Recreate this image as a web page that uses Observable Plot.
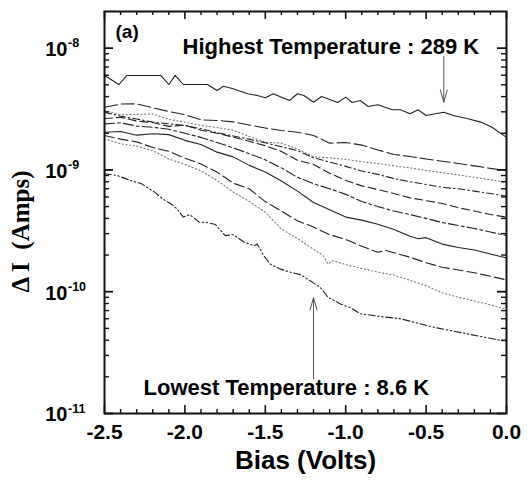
<!DOCTYPE html>
<html><head><meta charset="utf-8">
<script src="https://cdn.jsdelivr.net/npm/d3@7"></script>
<script src="https://cdn.jsdelivr.net/npm/@observablehq/plot@0.6"></script>
<style>body{margin:0;background:#fff}#chart svg{display:block}</style>
</head><body><div id="chart"></div>
<script>
// ---- data (Bias in volts, ΔI in amps) ----
const biasGrid = [-2.5,-2.4,-2.3,-2.2,-2.1,-2.0,-1.9,-1.8,-1.7,-1.6,-1.5,-1.4,-1.3,-1.2,-1.1,-1.0,-0.9,-0.8,-0.7,-0.6,-0.5,-0.4,-0.3,-0.2,-0.1,0.0];

const c1Bias = [-2.5,-2.41,-2.36,-2.15,-2.10,-2.06,-2.01,-1.86,-1.80,-1.76,-1.70,-1.61,-1.55,-1.50,-1.45,-1.40,-1.35,-1.30,-1.26,-1.20,-1.15,-1.05,-1.00,-0.96,-0.91,-0.86,-0.80,-0.71,-0.66,-0.60,-0.55,-0.50,-0.39,-0.33,-0.24,-0.16,-0.09,0.0];
const c1Current = [5.97e-9,5.03e-9,5.97e-9,5.97e-9,5.03e-9,5.97e-9,5.03e-9,5.03e-9,4.49e-9,4.87e-9,4.64e-9,4.22e-9,4.09e-9,3.91e-9,4.22e-9,3.96e-9,3.72e-9,4.22e-9,4.09e-9,3.6e-9,4.01e-9,3.58e-9,3.96e-9,3.58e-9,3.72e-9,3.32e-9,3.43e-9,3.12e-9,3.12e-9,2.89e-9,3.12e-9,2.80e-9,2.98e-9,2.80e-9,2.63e-9,2.47e-9,2.24e-9,1.85e-9];

const c2Current = [3.27e-9,3.48e-9,3.49e-9,3.24e-9,3.02e-9,2.84e-9,2.58e-9,2.55e-9,2.48e-9,2.34e-9,2.21e-9,2.11e-9,2.04e-9,1.92e-9,1.66e-9,1.68e-9,1.60e-9,1.46e-9,1.34e-9,1.29e-9,1.23e-9,1.18e-9,1.13e-9,1.08e-9,1.03e-9,9.9e-10];
const c3Current = [3.08e-9,2.83e-9,2.86e-9,2.88e-9,2.60e-9,2.47e-9,2.32e-9,2.23e-9,2.12e-9,1.88e-9,1.69e-9,1.66e-9,1.49e-9,1.28e-9,1.26e-9,1.22e-9,1.17e-9,1.13e-9,1.08e-9,1.04e-9,9.9e-10,9.5e-10,9.1e-10,8.7e-10,8.3e-10,7.9e-10];
const c4Current = [2.98e-9,2.76e-9,2.62e-9,2.47e-9,2.39e-9,2.32e-9,2.18e-9,2.02e-9,1.90e-9,1.79e-9,1.67e-9,1.55e-9,1.44e-9,1.26e-9,1.16e-9,1.07e-9,9.8e-10,9.2e-10,8.5e-10,8.0e-10,7.6e-10,7.2e-10,7.0e-10,6.7e-10,6.4e-10,6.1e-10];
const c5Current = [2.63e-9,2.71e-9,2.52e-9,2.45e-9,2.28e-9,2.33e-9,2.12e-9,2.00e-9,1.86e-9,1.72e-9,1.58e-9,1.42e-9,1.20e-9,1.11e-9,9.4e-10,8.2e-10,7.4e-10,6.9e-10,6.4e-10,5.9e-10,5.6e-10,5.3e-10,4.9e-10,4.6e-10,4.3e-10,4.1e-10];
const c6Current = [2.39e-9,2.44e-9,2.29e-9,2.24e-9,2.16e-9,2.00e-9,1.85e-9,1.68e-9,1.52e-9,1.36e-9,1.21e-9,1.04e-9,8.7e-10,7.7e-10,7.0e-10,6.3e-10,5.5e-10,5.0e-10,4.6e-10,4.3e-10,4.0e-10,3.7e-10,3.5e-10,3.3e-10,3.09e-10,2.89e-10];

const c7Bias = [-2.5,-2.4,-2.3,-2.2,-2.1,-2.0,-1.9,-1.8,-1.7,-1.6,-1.5,-1.4,-1.3,-1.2,-1.1,-1.0,-0.9,-0.8,-0.7,-0.6,-0.55,-0.5,-0.4,-0.3,-0.2,-0.1,0.0];
const c7Current = [2.04e-9,2.07e-9,1.93e-9,1.98e-9,1.95e-9,1.75e-9,1.62e-9,1.40e-9,1.28e-9,1.09e-9,9.6e-10,8.1e-10,6.7e-10,5.4e-10,4.7e-10,4.1e-10,3.87e-10,3.58e-10,3.24e-10,2.85e-10,2.72e-10,2.78e-10,2.46e-10,2.31e-10,2.20e-10,2.04e-10,1.89e-10];

const c8Bias = [-2.5,-2.4,-2.3,-2.2,-2.1,-2.0,-1.9,-1.8,-1.7,-1.6,-1.5,-1.4,-1.3,-1.2,-1.1,-1.0,-0.9,-0.8,-0.75,-0.7,-0.6,-0.5,-0.4,-0.3,-0.2,-0.1,0.0];
const c8Current = [1.92e-9,1.79e-9,1.70e-9,1.53e-9,1.42e-9,1.25e-9,1.12e-9,9.6e-10,7.8e-10,7.0e-10,5.5e-10,4.6e-10,3.82e-10,3.40e-10,2.94e-10,2.69e-10,2.36e-10,2.11e-10,2.18e-10,2.09e-10,1.92e-10,1.73e-10,1.59e-10,1.51e-10,1.43e-10,1.34e-10,1.25e-10];

const c9Bias = [-2.5,-2.4,-2.3,-2.2,-2.1,-2.0,-1.9,-1.8,-1.7,-1.6,-1.5,-1.4,-1.3,-1.2,-1.14,-1.11,-1.08,-1.0,-0.9,-0.8,-0.7,-0.6,-0.5,-0.4,-0.3,-0.2,-0.1,0.0];
const c9Current = [1.80e-9,1.64e-9,1.57e-9,1.44e-9,1.23e-9,1.11e-9,9.8e-10,8.2e-10,6.6e-10,5.5e-10,4.5e-10,3.27e-10,2.73e-10,2.23e-10,1.98e-10,1.69e-10,1.80e-10,1.67e-10,1.55e-10,1.45e-10,1.37e-10,1.24e-10,1.12e-10,9.8e-11,9.0e-11,8.4e-11,7.8e-11,7.2e-11];

const c10Bias = [-2.5,-2.42,-2.34,-2.27,-2.19,-2.14,-2.09,-2.05,-2.01,-1.97,-1.91,-1.87,-1.81,-1.75,-1.70,-1.63,-1.57,-1.55,-1.51,-1.47,-1.41,-1.34,-1.28,-1.23,-1.16,-1.11,-1.03,-0.97,-0.91,-0.76,-0.66,-0.45,-0.24,0.0];
const c10Current = [9.3e-10,9.0e-10,8.2e-10,7.7e-10,6.6e-10,5.8e-10,5.3e-10,4.8e-10,4.1e-10,4.3e-10,3.72e-10,3.72e-10,3.56e-10,2.89e-10,2.94e-10,2.55e-10,2.39e-10,2.47e-10,1.98e-10,1.69e-10,1.54e-10,1.44e-10,1.38e-10,1.25e-10,1.09e-10,9.0e-11,7.9e-11,7.4e-11,6.6e-11,6.2e-11,6.0e-11,5.1e-11,4.5e-11,3.9e-11];

// tick labels
const xTickValues = [-2.5,-2.0,-1.5,-1.0,-0.5,0.0];
const xTickLabels = ["-2.5","-2.0","-1.5","-1.0","-0.5","0.0"];
const yTickValues = [1e-11,1e-10,1e-9,1e-8];
const yTickExponents = ["-11","-10","-9","-8"];

// annotations
const annotationTexts = ["Highest Temperature : 289 K","Lowest Temperature : 8.6 K"];
const arrowBias = [-0.39,-1.2];
const arrowFrom = [8.55e-9,1.93e-11];
const arrowTo = [3.6e-9,8.93e-11];

// ---- build ----
const series = [
  [c1Bias,c1Current],[biasGrid,c2Current],[biasGrid,c3Current],[biasGrid,c4Current],[biasGrid,c5Current],
  [biasGrid,c6Current],[c7Bias,c7Current],[c8Bias,c8Current],[c9Bias,c9Current],[c10Bias,c10Current]
];
const styles = [
  {stroke:"#222", dash:null},
  {stroke:"#222", dash:"13,4"},
  {stroke:"#777", dash:"1.2,2.5"},
  {stroke:"#222", dash:"7,3,1.5,3"},
  {stroke:"#222", dash:"8,4"},
  {stroke:"#222", dash:"10,3,3,3"},
  {stroke:"#222", dash:null},
  {stroke:"#222", dash:"10,4"},
  {stroke:"#777", dash:"1.2,2.5"},
  {stroke:"#222", dash:"7,2.5,1.5,2.5,1.5,2.5"}
];
const rows = series.map(([bx,cy]) => bx.map((b,j)=>({bias:b, current:cy[j]})));

const W=530, H=491, mL=104, mR=24, mT=11, mB=78;
const fw = W-mL-mR, fh = H-mT-mB;

const xMinor = d3.range(-24,0).map(i=>i/10).filter(v=>Math.abs(v*2-Math.round(v*2))>1e-6);
const yMinor = [];
for (const dec of [1e-11,1e-10,1e-9]) for (let k=2;k<=9;k++) yMinor.push(k*dec);

const bold = {fontWeight:"bold", fill:"#000"};
const arrows = arrowBias.map((b,i)=>({x:b, y1:arrowFrom[i], y2:arrowTo[i]}));

const chart = Plot.plot({
  width:W, height:H, marginLeft:mL, marginRight:mR, marginTop:mT, marginBottom:mB,
  x:{domain:[-2.5,0], axis:null},
  y:{type:"log", domain:[1e-11,2e-8], axis:null},
  style:{fontFamily:"'Liberation Sans', Arial, Helvetica, sans-serif", background:"#fff", overflow:"visible"},
  marks:[
    ...rows.map((r,i)=>Plot.line(r,{x:"bias", y:"current", stroke:styles[i].stroke, strokeWidth:1.1, strokeDasharray:styles[i].dash})),
    // inward ticks
    Plot.ruleX(xTickValues,{x:d=>d, insetTop:fh-8, strokeWidth:1.6, stroke:"#111"}),
    Plot.ruleX(xTickValues,{x:d=>d, insetBottom:fh-8, strokeWidth:1.6, stroke:"#111"}),
    Plot.ruleX(xMinor,{x:d=>d, insetTop:fh-4, strokeWidth:1.4, stroke:"#111"}),
    Plot.ruleX(xMinor,{x:d=>d, insetBottom:fh-4, strokeWidth:1.4, stroke:"#111"}),
    Plot.ruleY(yTickValues,{y:d=>d, insetRight:fw-9, strokeWidth:1.8, stroke:"#111"}),
    Plot.ruleY(yTickValues,{y:d=>d, insetLeft:fw-9, strokeWidth:1.8, stroke:"#111"}),
    Plot.ruleY(yMinor,{y:d=>d, insetRight:fw-5, strokeWidth:1.4, stroke:"#111"}),
    Plot.ruleY(yMinor,{y:d=>d, insetLeft:fw-5, strokeWidth:1.4, stroke:"#111"}),
    Plot.frame({stroke:"#111", strokeWidth:2}),
    // x tick labels
    Plot.text(xTickValues,{x:d=>d, text:(d,i)=>xTickLabels[i], frameAnchor:"bottom", textAnchor:"middle", lineAnchor:"bottom", dy:25, fontSize:21, ...bold}),
    // y tick labels 10^n
    Plot.text(yTickValues,{y:d=>d, text:()=>"10", frameAnchor:"left", textAnchor:"end", dx:-37, dy:1.5, fontSize:20, ...bold}),
    Plot.text(yTickValues,{y:d=>d, text:(d,i)=>yTickExponents[i], frameAnchor:"left", textAnchor:"start", dx:-36.5, dy:-5, fontSize:12.5, ...bold}),
    // axis titles
    Plot.text(["Bias (Volts)"],{text:d=>d, frameAnchor:"bottom", textAnchor:"middle", lineAnchor:"bottom", dy:55, fontSize:26, ...bold}),
    Plot.text(["\u0394 I  (Amps)"],{text:d=>d, frameAnchor:"left", textAnchor:"middle", lineAnchor:"middle", rotate:-90, dx:-84, dy:19, fontSize:25, fontFamily:"'Liberation Serif', 'Times New Roman', serif", ...bold}),
    // panel label and annotations
    Plot.text(["(a)"],{text:d=>d, frameAnchor:"top-left", textAnchor:"start", lineAnchor:"bottom", dx:11, dy:26, fontSize:19, ...bold}),
    Plot.text([annotationTexts[0]],{text:d=>d, frameAnchor:"top-left", textAnchor:"start", lineAnchor:"bottom", dx:78, dy:42, fontSize:22, ...bold}),
    Plot.text([annotationTexts[1]],{text:d=>d, frameAnchor:"bottom-left", textAnchor:"start", lineAnchor:"bottom", dx:39, dy:-19, fontSize:22, ...bold}),
    Plot.arrow(arrows,{x:"x", y1:"y1", y2:"y2", stroke:"#555", strokeWidth:1, headLength:19, headAngle:32})
  ]
});
document.getElementById("chart").appendChild(chart);
</script></body></html>
